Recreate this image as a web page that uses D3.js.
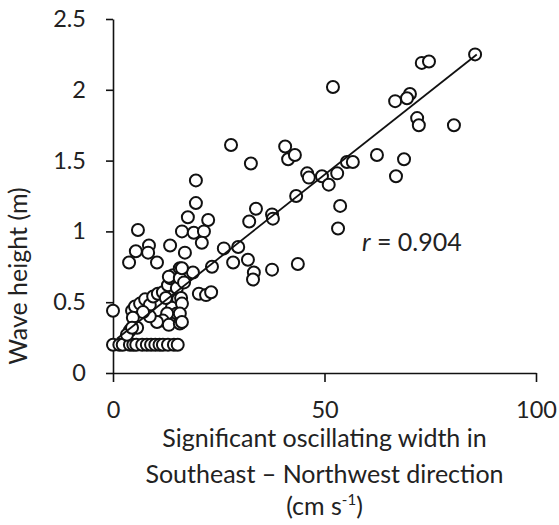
<!DOCTYPE html>
<html>
<head>
<meta charset="utf-8">
<style>
  body { margin: 0; background: #fff; }
  text { font-family: Lato, "Open Sans", sans-serif; fill: #222; }
</style>
</head>
<body>
<div id="container"></div>
<script src="https://d3js.org/d3.v7.min.js"></script>
<script>
var margin = {top: 19, right: 23, bottom: 152, left: 113},
    width = 559 - margin.left - margin.right,
    height = 525 - margin.top - margin.bottom;

// oscillating width (cm/s) and wave height (m)
var widthSE = [
  0, 1.5, 2.3, 4.0, 4.8, 5.5, 6.9, 8.0, 9.0, 10.0, 11.0, 11.8, 13.0, 14.4, 15.3,
  0,
  4.5, 5.2, 6.4, 7.6, 8.7, 9.5, 10.6, 11.8, 13.0, 13.5, 14.2, 15.8, 17.0, 15.1, 15.4,
  13.9, 15.1, 12.8, 11.8, 10.4, 8.7, 7.1, 4.7, 5.7, 4.0, 3.3,
  12.5, 16.1, 13.2, 15.8, 4.5, 13.2, 18.9, 15.8,
  5.9, 5.4, 8.5, 8.3, 13.5, 17.0, 3.8, 10.4, 16.3, 16.3, 19.1, 21.5, 21.0, 19.6, 17.7,
  22.5, 19.6, 26.2, 29.6, 23.4, 28.4, 31.9, 33.3, 33.1, 20.3, 22.0, 23.2, 16.3, 15.8,
  16.3, 16.8,
  27.9, 32.6, 33.8, 32.2, 37.6, 37.8, 43.3, 37.6, 43.7,
  40.7, 41.4, 43.0, 45.9, 46.3, 49.4, 51.0, 53.0, 55.3, 56.7, 52.0, 53.7, 53.2,
  62.4, 68.8, 66.9, 66.7, 70.2, 69.5, 71.9, 72.3, 80.6, 73.0, 74.7, 85.6
];
var waveHeight = [
  0.2, 0.2, 0.2, 0.2, 0.2, 0.2, 0.2, 0.2, 0.2, 0.2, 0.2, 0.2, 0.2, 0.2, 0.2,
  0.44,
  0.44, 0.47, 0.49, 0.52, 0.48, 0.54, 0.56, 0.57, 0.62, 0.67, 0.69, 0.74, 0.68, 0.60, 0.52,
  0.46, 0.42, 0.42, 0.37, 0.36, 0.40, 0.43, 0.39, 0.32, 0.30, 0.27,
  0.53, 0.53, 0.34, 0.35, 0.32, 0.68, 0.71, 0.67,
  1.01, 0.86, 0.90, 0.85, 0.90, 0.85, 0.78, 0.78, 0.74, 1.00, 0.99, 1.00, 0.92, 1.20, 1.10,
  1.08, 1.36, 0.88, 0.89, 0.75, 0.78, 0.80, 0.71, 0.66, 0.56, 0.55, 0.57, 0.49, 0.42,
  0.36, 0.64,
  1.61, 1.48, 1.16, 1.07, 1.12, 1.09, 1.25, 0.73, 0.77,
  1.60, 1.51, 1.54, 1.41, 1.38, 1.39, 1.33, 1.41, 1.49, 1.49, 2.02, 1.18, 1.02,
  1.54, 1.51, 1.39, 1.92, 1.97, 1.94, 1.80, 1.75, 1.75, 2.19, 2.20, 2.25
];
var xTicks = [0, 50, 100];
var yTicks = [0, 0.5, 1, 1.5, 2, 2.5];
var fitX = [1, 86];
var fitIntercept = 0.22, fitSlope = 0.0236;

var svg = d3.select("#container").append("svg")
    .attr("width", width + margin.left + margin.right)
    .attr("height", height + margin.top + margin.bottom)
  .append("g")
    .attr("transform", "translate(" + margin.left + "," + margin.top + ")");

var x = d3.scaleLinear().domain([0, 100]).range([0, width]);
var y = d3.scaleLinear().domain([0, 2.5]).range([height, 0]);

// axes
var xAxis = svg.append("g")
    .attr("transform", "translate(0," + height + ")")
    .call(d3.axisBottom(x).tickValues(xTicks).tickSize(9).tickSizeOuter(0).tickPadding(19).tickFormat(d3.format("d")));
var yAxis = svg.append("g")
    .call(d3.axisLeft(y).tickValues(yTicks).tickSize(7).tickSizeOuter(0).tickPadding(20).tickFormat(function(d) { return String(d); }));

[xAxis, yAxis].forEach(function(a) {
  a.selectAll("path, line").attr("stroke", "#111").attr("stroke-width", 1.6);
  a.selectAll("text").style("font-size", "23.5px").attr("fill", "#222");
});

// points
var pts = widthSE.map(function(v, i) { return {x: v, y: waveHeight[i]}; });
svg.append("g").selectAll("circle").data(pts).enter().append("circle")
    .attr("cx", function(d) { return x(d.x); })
    .attr("cy", function(d) { return y(d.y); })
    .attr("r", 6)
    .attr("fill", "#fff")
    .attr("stroke", "#111")
    .attr("stroke-width", 2);

// regression line
svg.append("line")
    .attr("x1", x(fitX[0])).attr("y1", y(fitIntercept + fitSlope * fitX[0]))
    .attr("x2", x(fitX[1])).attr("y2", y(fitIntercept + fitSlope * fitX[1]))
    .attr("stroke", "#111")
    .attr("stroke-width", 1.8);

// r label
var rLabel = svg.append("text")
    .attr("x", 249).attr("y", 232)
    .style("font-size", "25px");
rLabel.append("tspan").style("font-style", "italic").text("r");
rLabel.append("tspan").text(" = 0.904");

// x axis title
var xTitle = svg.append("text")
    .attr("text-anchor", "middle")
    .style("font-size", "25px");
xTitle.append("tspan").attr("x", x(50)).attr("y", 428).text("Significant oscillating width in");
xTitle.append("tspan").attr("x", x(50)).attr("y", 464).text("Southeast \u2013 Northwest direction");
xTitle.append("tspan").attr("x", x(50)).attr("y", 496).text("(cm s");
xTitle.append("tspan").attr("dy", -10).style("font-size", "15px").text("-1");
xTitle.append("tspan").attr("dy", 10).text(")");

// y axis title
svg.append("text")
    .attr("text-anchor", "middle")
    .attr("transform", "translate(" + (27 - margin.left) + "," + (276 - margin.top) + ") rotate(-90)")
    .style("font-size", "25px")
    .text("Wave height (m)");
</script>
</body>
</html>
